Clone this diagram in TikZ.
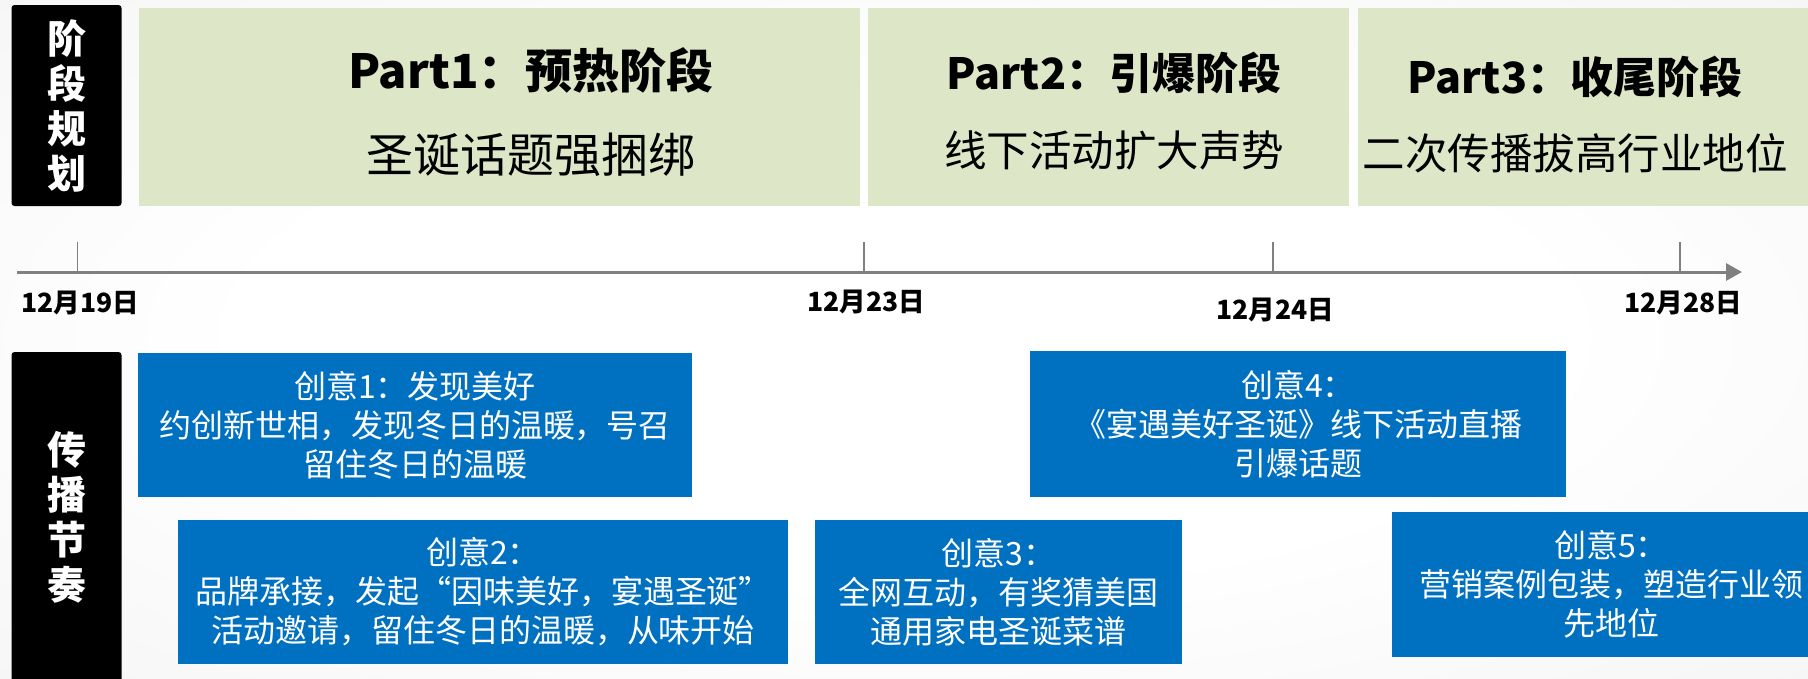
\documentclass[tikz,border=0pt]{standalone}
\usepackage{fontspec}
\setmainfont{Noto Sans CJK SC}
\usetikzlibrary{arrows.meta}
\definecolor{bggray}{HTML}{E4E4E4}
\definecolor{phasegreen}{HTML}{DDE7C8}
\definecolor{ideablue}{HTML}{0070C0}
\definecolor{axisgray}{HTML}{808080}
\pgfdeclareradialshading{bgshade}{\pgfpoint{0bp}{0bp}}{color(0bp)=(white); color(18bp)=(white); color(71bp)=(bggray)}
\begin{document}
\begin{tikzpicture}[x=1pt,y=-1pt,
  sidebox/.style={fill=black, rounded corners=3pt, text=white, inner sep=0pt,
    font=\bfseries\fontsize{39}{45}\selectfont, align=center},
  phasebox/.style={fill=phasegreen, inner sep=0pt},
  phasehead/.style={font=\bfseries\fontsize{43}{50}\selectfont, inner sep=0pt},
  phasesub/.style={font=\fontsize{42.5}{50}\selectfont, inner sep=0pt},
  idea/.style={fill=ideablue, text=white, inner sep=0pt,
    font=\fontsize{32}{39}\selectfont, align=center},
  datelabel/.style={font=\bfseries\fontsize{26.5}{30}\selectfont, inner sep=0pt},
  tick/.style={draw=axisgray, line width=1.3pt},
  axis/.style={draw=axisgray, line width=3pt, -{Triangle[length=16pt,width=17pt]}}
]
\useasboundingbox (0,0) rectangle (1808,678);
\clip (0,0) rectangle (1808,678);
\shade[shading=bgshade] (0,0) rectangle (1808,678);

% phase planning
\node[sidebox, minimum width=110pt, minimum height=201pt] (plan) at (66.5,105.5) {阶\\段\\规\\划};
\node[phasebox, minimum width=721pt, minimum height=198pt] (p1) at (499.5,106.5) {};
\node[phasebox, minimum width=481pt, minimum height=198pt] (p2) at (1108.5,106.5) {};
\node[phasebox, minimum width=460pt, minimum height=198pt] (p3) at (1587.5,106.5) {};

\node[phasehead, font=\bfseries\fontsize{47}{54}\selectfont] (h1) at (531,70) {Part1：预热阶段};
\node[phasesub, font=\fontsize{47}{54}\selectfont] (s1) at (531,155) {圣诞话题强捆绑};
\node[phasehead] (h2) at (1114,73) {Part2：引爆阶段};
\node[phasesub] (s2) at (1114,150) {线下活动扩大声势};
\node[phasehead] (h3) at (1575,77) {Part3：收尾阶段};
\node[phasesub] (s3) at (1575,153) {二次传播拔高行业地位};

% timeline
\coordinate (tstart) at (17,272);
\coordinate (tend) at (1742,272);
\draw[axis] (tstart) -- (tend);
\coordinate (t1a) at (77.5,242); \coordinate (t1b) at (77.5,272);
\coordinate (t2a) at (864,242);  \coordinate (t2b) at (864,272);
\coordinate (t3a) at (1273,242); \coordinate (t3b) at (1273,272);
\coordinate (t4a) at (1680,242); \coordinate (t4b) at (1680,272);
\draw[tick] (t1a) -- (t1b);
\draw[tick] (t2a) -- (t2b);
\draw[tick] (t3a) -- (t3b);
\draw[tick] (t4a) -- (t4b);
\node[datelabel] (d1) at (80,303) {12月19日};
\node[datelabel] (d2) at (866,302) {12月23日};
\node[datelabel] (d3) at (1275,310) {12月24日};
\node[datelabel] (d4) at (1683,303) {12月28日};

% rhythm
\node[sidebox, minimum width=110pt, minimum height=331pt] (rhythm) at (66.5,517.5) {传\\播\\节\\奏};
\node[idea, minimum width=554pt, minimum height=144pt] (i1) at (415,425) {创意1：发现美好\\约创新世相，发现冬日的温暖，号召\\留住冬日的温暖};
\node[idea, minimum width=610pt, minimum height=144pt] (i2) at (483,592) {创意2：\\品牌承接，发起“因味美好，宴遇圣诞”\\活动邀请，留住冬日的温暖，从味开始};
\node[idea, minimum width=367pt, minimum height=144pt] (i3) at (998.5,592) {创意3：\\全网互动，有奖猜美国\\通用家电圣诞菜谱};
\node[idea, minimum width=536pt, minimum height=146pt] (i4) at (1298,424) {创意4：\\《宴遇美好圣诞》线下活动直播\\引爆话题};
\node[idea, minimum width=438pt, minimum height=145pt] (i5) at (1611,584.5) {创意5：\\营销案例包装，塑造行业领\\先地位};
\end{tikzpicture}
\end{document}
